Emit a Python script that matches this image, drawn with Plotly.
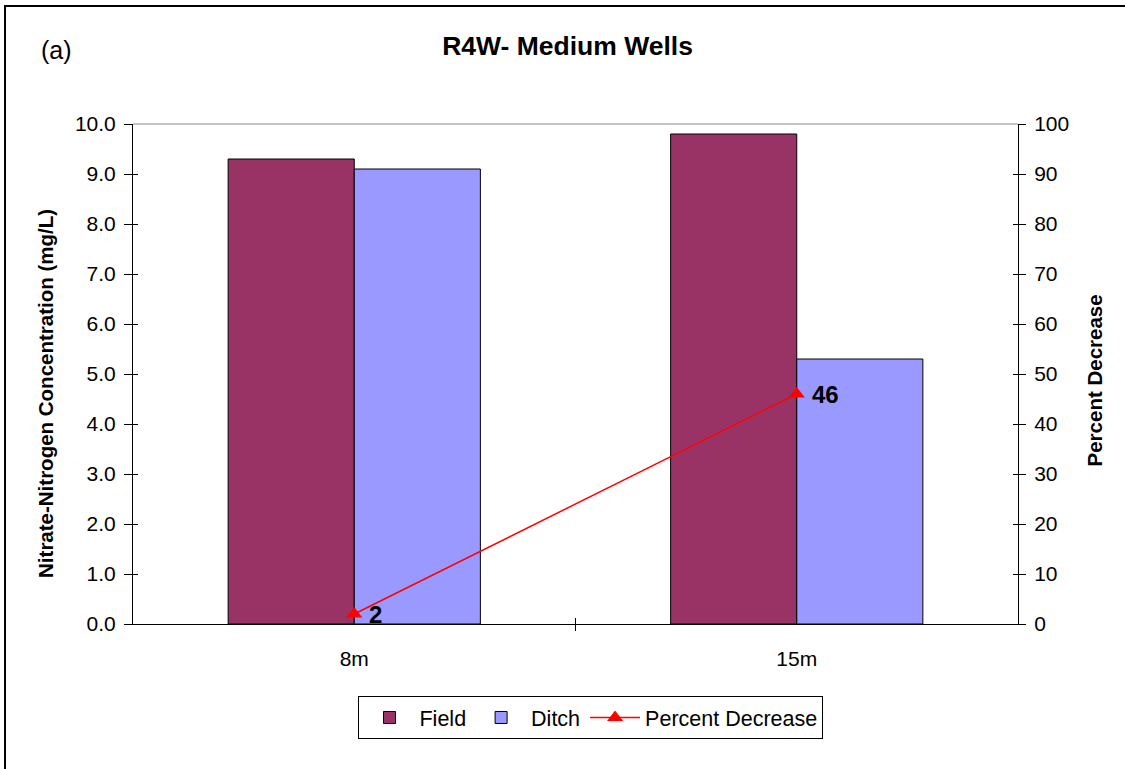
import plotly.graph_objects as go

categories = ["8m", "15m"]
field = [9.3, 9.8]
ditch = [9.1, 5.3]
pct_decrease = [2, 46]
y_ticks = [0, 1, 2, 3, 4, 5, 6, 7, 8, 9, 10]
y2_ticks = [0, 10, 20, 30, 40, 50, 60, 70, 80, 90, 100]

FONT = "Liberation Sans, Arial, sans-serif"

fig = go.Figure()
fig.add_trace(go.Bar(x=categories, y=field, name="Field",
                     marker=dict(color="#993366", line=dict(color="black", width=1))))
fig.add_trace(go.Bar(x=categories, y=ditch, name="Ditch",
                     marker=dict(color="#9999FF", line=dict(color="black", width=1))))
fig.add_trace(go.Scatter(x=categories, y=pct_decrease, name="Percent Decrease", yaxis="y2",
                         mode="lines+markers",
                         line=dict(color="#FF0000", width=1.5),
                         marker=dict(symbol="triangle-up", size=14, color="#FF0000"),
                         cliponaxis=False))
# invisible helper traces so the overlay tick-only axes (crossing ticks) are drawn
fig.add_trace(go.Scatter(x=categories, y=field, xaxis="x2", yaxis="y3", mode="none",
                         showlegend=False, hoverinfo="skip"))
fig.add_trace(go.Scatter(x=categories, y=pct_decrease, xaxis="x3", yaxis="y4", mode="none",
                         showlegend=False, hoverinfo="skip"))

# data labels for the percent-decrease series
for cat, val in zip(categories, pct_decrease):
    fig.add_annotation(x=cat, y=val, xref="x", yref="y2", text=f"<b>{val}</b>",
                       showarrow=False, xanchor="left", yanchor="middle",
                       xshift=13, yshift=0, font=dict(size=24, color="black"))

tick_common = dict(showgrid=False, zeroline=False, showline=False, showticklabels=False,
                   tickcolor="black")

fig.update_layout(
    width=1125, height=769,
    margin=dict(l=133, r=107, t=124, b=145),
    paper_bgcolor="white", plot_bgcolor="white",
    font=dict(family=FONT, color="black", size=21),
    barmode="group", bargap=0.43, bargroupgap=0,
    title=dict(text="<b>R4W- Medium Wells</b>", x=0.5045, xanchor="center",
               y=0.94, yanchor="middle", font=dict(size=26.5)),
    xaxis=dict(type="category", showline=True, linecolor="black", linewidth=1,
               ticks="", showgrid=False, ticklabelstandoff=16, tickfont=dict(size=21)),
    xaxis2=dict(type="linear", overlaying="x", anchor="y3", side="bottom", range=[-0.5, 1.5],
                tickvals=[0.5], ticks="outside", ticklen=6, **tick_common),
    xaxis3=dict(type="linear", overlaying="x", anchor="y4", side="bottom", range=[-0.5, 1.5],
                tickvals=[0.5], ticks="inside", ticklen=6, **tick_common),
    yaxis=dict(range=[0, 10], tickvals=y_ticks, tickformat=".1f",
               showline=True, linecolor="black", linewidth=1,
               ticks="outside", ticklen=8, tickcolor="black", showgrid=False,
               zeroline=False, tickfont=dict(size=21), ticklabelstandoff=4),
    yaxis2=dict(range=[0, 100], tickvals=y2_ticks, overlaying="y", side="right",
                showline=True, linecolor="black", linewidth=1,
                ticks="outside", ticklen=7, tickcolor="black", showgrid=False,
                zeroline=False, tickfont=dict(size=21), ticklabelstandoff=4),
    yaxis3=dict(range=[0, 10], tickvals=y_ticks, overlaying="y", side="left", anchor="x2",
                ticks="inside", ticklen=5, **tick_common),
    yaxis4=dict(range=[0, 100], tickvals=y2_ticks, overlaying="y", side="right", anchor="x3",
                ticks="inside", ticklen=5, **tick_common),
    legend=dict(orientation="h", x=0.5175, xanchor="center", y=-0.187, yanchor="middle",
                bordercolor="black", borderwidth=1, font=dict(size=21.5),
                itemwidth=50, traceorder="normal", tracegroupgap=0),
    showlegend=True,
)

fig.add_annotation(text="<b>Nitrate-Nitrogen Concentration (mg/L)</b>", textangle=-90,
                   xref="paper", yref="paper", x=-0.0995, y=0.462,
                   xanchor="center", yanchor="middle", showarrow=False,
                   font=dict(size=20.5))
fig.add_annotation(text="<b>Percent Decrease</b>", textangle=-90,
                   xref="paper", yref="paper", x=1.0864, y=0.488,
                   xanchor="center", yanchor="middle", showarrow=False,
                   font=dict(size=20.5))
fig.add_annotation(text="(a)", xref="paper", yref="paper", x=-0.087, y=1.148,
                   xanchor="center", yanchor="middle", showarrow=False,
                   font=dict(size=25))

# plot-area top border (gray)
fig.add_shape(type="line", xref="paper", yref="paper", x0=0, x1=1, y0=1, y1=1,
              line=dict(color="#888888", width=1))
# chart outer frame
fig.add_shape(type="rect", xref="paper", yref="paper", x0=-0.1446, x1=1.3, y0=-0.5, y1=1.236,
              line=dict(color="black", width=2), layer="below")

fig.write_html("out.html", config={"displayModeBar": False},
               post_script="document.body.style.margin='0';document.body.style.overflow='hidden';")
